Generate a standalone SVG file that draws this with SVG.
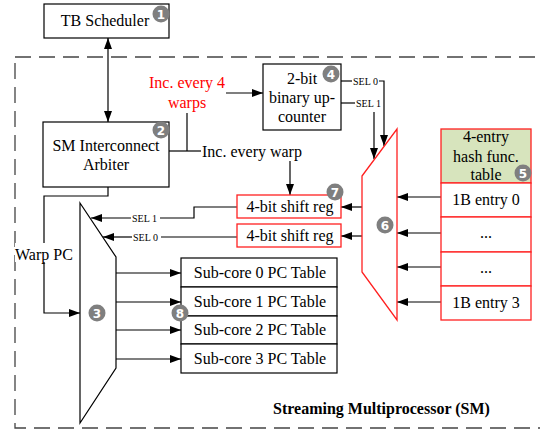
<svg xmlns="http://www.w3.org/2000/svg" width="540" height="432" viewBox="0 0 540 432">
  <defs>
    <marker id="arr" viewBox="0 0 11 8" refX="11" refY="4" markerWidth="11" markerHeight="8" markerUnits="userSpaceOnUse" orient="auto-start-reverse">
      <path d="M0,0 L11,4 L0,8 z" fill="#000"/>
    </marker>
    <style>
      text { font-family: "Liberation Serif", "Times New Roman", serif; font-size: 16px; fill: #000; }
      .c { text-anchor: middle; }
      .red { fill: #ff0000; }
      .sel { font-size: 10px; }
      .bold { font-weight: bold; }
      .box { fill: #fff; stroke: #000; stroke-width: 1.2; }
      .rbox { fill: #fff; stroke: #ff2020; stroke-width: 1.3; }
      .wire { fill: none; stroke: #000; stroke-width: 1.2; }
      .arrow { fill: none; stroke: #000; stroke-width: 1.2; marker-end: url(#arr); }
      .badge circle { fill: #7f7f7f; }
      .badge text { font-family: "DejaVu Sans", "Liberation Sans", sans-serif; font-weight: bold; font-size: 12px; fill: #fff; text-anchor: middle; }
    </style>
  </defs>
  <rect width="540" height="432" fill="#fff"/>

  <!-- SM boundary -->
  <rect x="15" y="57" width="540" height="371" fill="none" stroke="#444" stroke-width="1.3" stroke-dasharray="16 8"/>
  <text class="bold" x="273" y="414">Streaming Multiprocessor (SM)</text>

  <g id="connectors">
    <!-- scheduler <-> arbiter -->
    <line class="arrow" x1="108" y1="122" x2="108" y2="38" style="marker-start:url(#arr)"/>
    <!-- Inc. every 4 warps -> counter -->
    <line class="arrow" x1="226" y1="93" x2="263" y2="93"/>
    <!-- arbiter outputs -->
    <polyline class="wire" points="169,151 201,151"/>
    <line class="wire" x1="187" y1="113" x2="187" y2="151"/>
    <line class="arrow" x1="290" y1="161" x2="290" y2="195"/>
    <!-- counter SEL lines -->
    <line class="wire" x1="341" y1="81" x2="352" y2="81"/>
    <polyline class="arrow" points="379,81 384,81 384,146"/>
    <line class="wire" x1="341" y1="103" x2="355" y2="103"/>
    <line class="arrow" x1="374" y1="112" x2="374" y2="159"/>
    <!-- hash table entries -> mux 6 -->
    <line class="arrow" x1="441" y1="197" x2="397" y2="197"/>
    <line class="arrow" x1="441" y1="233" x2="397" y2="233"/>
    <line class="arrow" x1="441" y1="267" x2="397" y2="267"/>
    <line class="arrow" x1="441" y1="302" x2="397" y2="302"/>
    <!-- mux 6 -> shift regs -->
    <line class="arrow" x1="362" y1="207" x2="341" y2="207"/>
    <line class="arrow" x1="362" y1="236" x2="341" y2="236"/>
    <!-- shift regs -> mux 3 selects -->
    <polyline class="wire" points="237,207 194,207 194,218 160,218"/>
    <line class="arrow" x1="131" y1="218" x2="91" y2="218"/>
    <line class="wire" x1="237" y1="237" x2="161" y2="237"/>
    <line class="arrow" x1="132" y1="237" x2="103" y2="237"/>
    <!-- warp PC -->
    <polyline class="arrow" points="108,187 108,196 44,196 44,313 80,313"/>
    <!-- mux 3 -> sub-core tables -->
    <line class="arrow" x1="116" y1="273" x2="181" y2="273"/>
    <line class="arrow" x1="116" y1="302" x2="181" y2="302"/>
    <line class="arrow" x1="116" y1="330" x2="181" y2="330"/>
    <line class="arrow" x1="116" y1="359" x2="181" y2="359"/>
  </g>

  <!-- connector labels -->
  <text class="c red" x="187" y="88">Inc. every 4</text>
  <text class="c red" x="187" y="108">warps</text>
  <text x="202" y="157">Inc. every warp</text>
  <text class="sel" x="353" y="84.5">SEL 0</text>
  <text class="sel" x="356" y="106.5">SEL 1</text>
  <text class="sel" x="132" y="221.5">SEL 1</text>
  <text class="sel" x="133" y="240.5">SEL 0</text>
  <rect x="15" y="243" width="58" height="19" fill="#fff"/>
  <text x="15" y="260">Warp PC</text>

  <g id="tb-scheduler">
    <rect class="box" x="44" y="4" width="125" height="34"/>
    <text class="c" x="105" y="26">TB Scheduler</text>
    <g class="badge"><circle cx="161" cy="14" r="8.5"/><text x="161" y="18.5">1</text></g>
  </g>

  <g id="arbiter">
    <rect class="box" x="43" y="122" width="126" height="65"/>
    <text class="c" x="106" y="151">SM Interconnect</text>
    <text class="c" x="106" y="170">Arbiter</text>
    <g class="badge"><circle cx="161" cy="130" r="8.5"/><text x="161" y="134.5">2</text></g>
  </g>

  <g id="counter">
    <rect class="box" x="263" y="64" width="78" height="66"/>
    <text class="c" x="302" y="84">2-bit</text>
    <text class="c" x="302" y="103">binary up-</text>
    <text class="c" x="302" y="122">counter</text>
    <g class="badge"><circle cx="331" cy="74" r="8.5"/><text x="331" y="78.5">4</text></g>
  </g>

  <g id="hash-table">
    <rect x="441" y="129" width="90" height="54" fill="#d7e4bd" stroke="#ff2020" stroke-width="1.3"/>
    <rect class="rbox" x="441" y="183" width="90" height="34"/>
    <rect class="rbox" x="441" y="217" width="90" height="35"/>
    <rect class="rbox" x="441" y="252" width="90" height="34"/>
    <rect class="rbox" x="441" y="286" width="90" height="34"/>
    <text class="c" x="486" y="142">4-entry</text>
    <text class="c" x="486" y="162">hash func.</text>
    <text class="c" x="486" y="180">table</text>
    <text class="c" x="486" y="205">1B entry 0</text>
    <text class="c" x="486" y="238">...</text>
    <text class="c" x="486" y="273">...</text>
    <text class="c" x="486" y="308">1B entry 3</text>
    <g class="badge"><circle cx="523" cy="173" r="8.5"/><text x="523" y="177.5">5</text></g>
  </g>

  <g id="mux-hash">
    <polygon points="362,176 397,129 397,320 362,272" fill="#fff" stroke="#ff2020" stroke-width="1.3"/>
    <g class="badge"><circle cx="385" cy="225" r="8.5"/><text x="385" y="229.5">6</text></g>
  </g>

  <g id="shift-regs">
    <rect class="rbox" x="237" y="195" width="104" height="23"/>
    <text class="c" x="290" y="212">4-bit shift reg</text>
    <rect class="rbox" x="237" y="224" width="104" height="23"/>
    <text class="c" x="290" y="241">4-bit shift reg</text>
    <g class="badge"><circle cx="335" cy="192" r="8.5"/><text x="335" y="196.5">7</text></g>
  </g>

  <g id="mux-pc">
    <polygon points="80,203 116,257 116,368 80,423" fill="#fff" stroke="#000" stroke-width="1.2"/>
    <g class="badge"><circle cx="97" cy="313" r="8.5"/><text x="97" y="317.5">3</text></g>
  </g>

  <g id="pc-tables">
    <rect class="box" x="181" y="258" width="156" height="29"/>
    <rect class="box" x="181" y="287" width="156" height="29"/>
    <rect class="box" x="181" y="316" width="156" height="28"/>
    <rect class="box" x="181" y="344" width="156" height="29"/>
    <text class="c" x="260" y="278">Sub-core 0 PC Table</text>
    <text class="c" x="260" y="307">Sub-core 1 PC Table</text>
    <text class="c" x="260" y="335">Sub-core 2 PC Table</text>
    <text class="c" x="260" y="364">Sub-core 3 PC Table</text>
    <g class="badge"><circle cx="180" cy="313" r="8.5"/><text x="180" y="317.5">8</text></g>
  </g>
</svg>
